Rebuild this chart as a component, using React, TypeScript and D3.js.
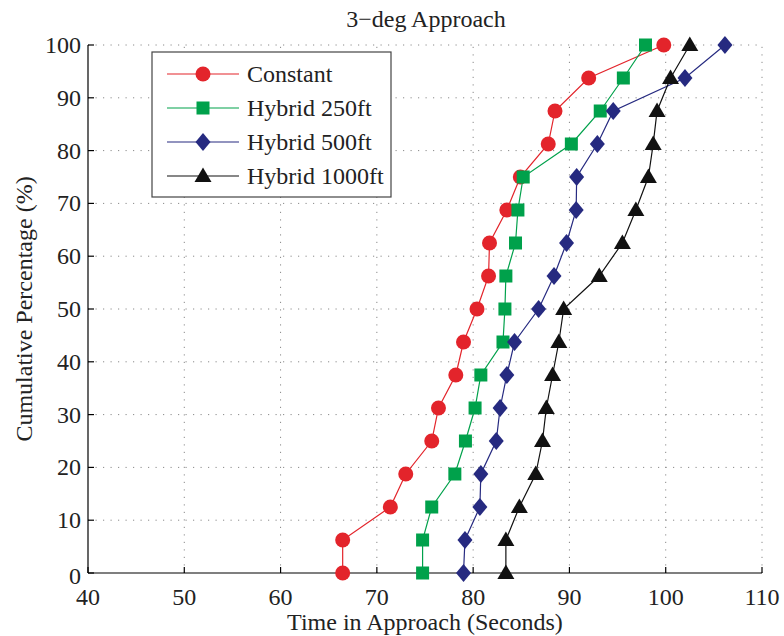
import * as d3 from "d3";

const W = 784;
const H = 636;
const MARGIN = { top: 45, right: 22, bottom: 63, left: 88 };

const PCT = [0, 6.25, 12.5, 18.75, 25, 31.25, 37.5, 43.75, 50, 56.25, 62.5, 68.75, 75, 81.25, 87.5, 93.75, 100];

const CONSTANT = [66.45, 66.45, 71.4, 73.0, 75.7, 76.4, 78.2, 79.0, 80.4, 81.6, 81.7, 83.5, 84.9, 87.8, 88.5, 92.0, 99.8];
const HYBRID_250 = [74.75, 74.75, 75.7, 78.1, 79.2, 80.2, 80.8, 83.1, 83.3, 83.4, 84.4, 84.65, 85.2, 90.2, 93.2, 95.6, 97.9];
const HYBRID_500 = [79.0, 79.15, 80.7, 80.8, 82.4, 82.8, 83.5, 84.3, 86.8, 88.4, 89.7, 90.7, 90.75, 92.9, 94.55, 102.0, 106.15];
const HYBRID_1000 = [83.4, 83.4, 84.8, 86.5, 87.2, 87.6, 88.25, 88.9, 89.4, 93.1, 95.5, 96.9, 98.2, 98.7, 99.1, 100.5, 102.5];

const X_TICKS = [40, 50, 60, 70, 80, 90, 100, 110];
const Y_TICKS = [0, 10, 20, 30, 40, 50, 60, 70, 80, 90, 100];

const SERIES = [
  { name: "Constant", xs: CONSTANT, color: "#e3242b", marker: "circle" },
  { name: "Hybrid 250ft", xs: HYBRID_250, color: "#00a14b", marker: "square" },
  { name: "Hybrid 500ft", xs: HYBRID_500, color: "#262a80", marker: "diamond" },
  { name: "Hybrid 1000ft", xs: HYBRID_1000, color: "#111111", marker: "triangle" },
];

const FONT = "'Liberation Serif', 'Times New Roman', serif";
const FS = 24;

function Marker({ kind, x, y, color }: { kind: string; x: number; y: number; color: string }) {
  if (kind === "circle") return <circle cx={x} cy={y} r={7.5} fill={color} />;
  if (kind === "square") return <rect x={x - 6.5} y={y - 6.5} width={13} height={13} fill={color} />;
  if (kind === "diamond")
    return <path d={`M${x},${y - 9}L${x + 7.5},${y}L${x},${y + 9}L${x - 7.5},${y}Z`} fill={color} />;
  return <path d={`M${x},${y - 8.5}L${x + 8.5},${y + 6}L${x - 8.5},${y + 6}Z`} fill={color} />;
}

export default function App() {
  const innerW = W - MARGIN.left - MARGIN.right;
  const innerH = H - MARGIN.top - MARGIN.bottom;
  const x = d3.scaleLinear().domain([40, 110]).range([MARGIN.left, MARGIN.left + innerW]);
  const y = d3.scaleLinear().domain([0, 100]).range([MARGIN.top + innerH, MARGIN.top]);
  const line = d3.line<[number, number]>().x((d) => x(d[0])).y((d) => y(d[1]));
  const x0 = x(40);
  const x1 = x(110);
  const y0 = y(0);
  const y1 = y(100);

  // legend box
  const lg = { left: 152, top: 52, right: 391, bottom: 197 };
  const rowY = (i: number) => 74 + i * 34;

  return (
    <svg
      width={W}
      height={H}
      style={{ position: "absolute", left: 0, top: 0, background: "#fff" }}
      fontFamily={FONT}
    >
      <rect width={W} height={H} fill="#fff" />
      {/* grid */}
      <g stroke="#8a8a8a" strokeWidth={1} strokeDasharray="1.2 6.3">
        {X_TICKS.slice(1).map((t) => (
          <line key={"gx" + t} x1={x(t)} x2={x(t)} y1={y0} y2={y1} />
        ))}
        {Y_TICKS.slice(1).map((t) => (
          <line key={"gy" + t} x1={x0} x2={x1} y1={y(t)} y2={y(t)} />
        ))}
      </g>
      {/* axes */}
      <g stroke="#000" strokeWidth={1.2} fill="none">
        <line x1={x0} x2={x1} y1={y0} y2={y0} />
        <line x1={x0} x2={x0} y1={y0} y2={y1} />
        {X_TICKS.map((t) => (
          <line key={"tx" + t} x1={x(t)} x2={x(t)} y1={y0} y2={y0 - 6} />
        ))}
        {Y_TICKS.map((t) => (
          <line key={"ty" + t} x1={x0} x2={x0 + 6} y1={y(t)} y2={y(t)} />
        ))}
      </g>
      <g fontSize={FS} fill="#222">
        {X_TICKS.map((t) => (
          <text key={"lx" + t} x={x(t)} y={y0 + 31.5} textAnchor="middle">
            {t}
          </text>
        ))}
        {Y_TICKS.map((t) => (
          <text key={"ly" + t} x={x0 - 7} y={y(t) + 8 + (t === 0 ? 3 : 0)} textAnchor="end">
            {t}
          </text>
        ))}
      </g>
      <text x={425} y={630} textAnchor="middle" fontSize={FS} fill="#222">
        Time in Approach (Seconds)
      </text>
      <text
        transform={`translate(32,${(y0 + y1) / 2}) rotate(-90)`}
        textAnchor="middle"
        fontSize={FS}
        fill="#222"
      >
        Cumulative Percentage (%)
      </text>
      <text x={426} y={27} textAnchor="middle" fontSize={FS} fill="#222">
        3−deg Approach
      </text>
      {/* series */}
      {SERIES.map((s) => {
        const pts: [number, number][] = s.xs.map((v, i) => [v, PCT[i]]);
        return (
          <g key={s.name}>
            <path d={line(pts) ?? ""} fill="none" stroke={s.color} strokeWidth={1.2} />
            {pts.map((p, i) => (
              <Marker key={i} kind={s.marker} x={x(p[0])} y={y(p[1])} color={s.color} />
            ))}
          </g>
        );
      })}
      {/* legend */}
      <rect
        x={lg.left}
        y={lg.top}
        width={lg.right - lg.left}
        height={lg.bottom - lg.top}
        fill="#fff"
        stroke="#444"
        strokeWidth={1.2}
      />
      {SERIES.map((s, i) => (
        <g key={"lg" + s.name}>
          <line x1={167} x2={239} y1={rowY(i)} y2={rowY(i)} stroke={s.color} strokeWidth={1.2} />
          <Marker kind={s.marker} x={203} y={rowY(i)} color={s.color} />
          <text x={247} y={rowY(i) + 8} fontSize={FS} fill="#222">
            {s.name}
          </text>
        </g>
      ))}
    </svg>
  );
}
